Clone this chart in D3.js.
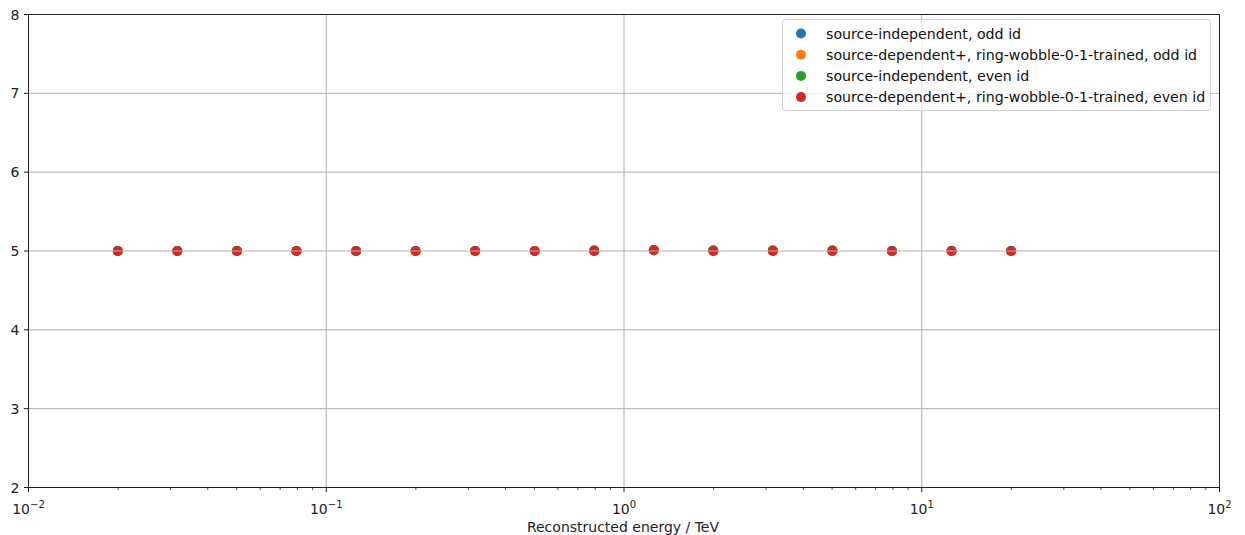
<!DOCTYPE html>
<html><head><meta charset="utf-8">
<script src="https://cdn.jsdelivr.net/npm/d3@7"></script>
<style>body{margin:0;background:#fff;} svg{display:block;font-family:"DejaVu Sans",sans-serif;}</style>
</head><body>
<svg id="c" width="1245" height="535"></svg>
<script>
const energies = [0.01995, 0.03162, 0.05012, 0.07943, 0.1259, 0.1995, 0.3162, 0.5012, 0.7943, 1.259, 1.995, 3.162, 5.012, 7.943, 12.59, 19.95];
const seriesNames = ["source-independent, odd id", "source-dependent+, ring-wobble-0-1-trained, odd id", "source-independent, even id", "source-dependent+, ring-wobble-0-1-trained, even id"];
const seriesColors = ["#1f77b4", "#ff7f0e", "#2ca02c", "#d62728"];
const valuesOddIndep = [5.0, 5.0, 5.0, 5.0, 5.0, 5.0, 5.0, 5.0, 5.008, 5.01, 5.004, 5.004, 5.008, 5.0, 5.0, 5.0];
const valuesOddDep   = [5.0, 5.0, 5.0, 5.0, 5.0, 5.0, 5.0, 5.0, 5.002, 5.01, 5.002, 5.002, 5.002, 5.0, 5.0, 5.0];
const valuesEvenIndep= [5.0, 5.0, 5.0, 5.0, 5.0, 5.0, 5.0, 5.0, 5.004, 5.01, 5.008, 5.009, 5.004, 5.0, 5.0, 5.0];
const valuesEvenDep  = [5.0, 5.0, 5.0, 5.0, 5.0, 5.0, 5.0, 5.0, 5.0, 5.012, 5.0, 5.0, 5.0, 5.0, 5.0, 5.0];
const allValues = [valuesOddIndep, valuesOddDep, valuesEvenIndep, valuesEvenDep];
const xMajorTicks = [1e-2, 1e-1, 1e0, 1e1, 1e2];
const xTickExponents = ["−2", "−1", "0", "1", "2"];
const yTicks = [2, 3, 4, 5, 6, 7, 8];
const xLabel = "Reconstructed energy / TeV";

const svg = d3.select("#c");
const L = 28.5, R = 1219.5, T = 14.5, B = 487.5;
const x = d3.scaleLog().domain([1e-2, 1e2]).range([L, R]);
const y = d3.scaleLinear().domain([2, 8]).range([B, T]);
const FS = 14;

// points (drawn below grid)
const gPts = svg.append("g");
allValues.forEach((vals, si) => {
  gPts.selectAll(null).data(energies.map((e, i) => [e, vals[i]])).enter()
    .append("circle").attr("cx", d => x(d[0])).attr("cy", d => y(d[1]))
    .attr("r", 5).attr("fill", seriesColors[si]);
});

// grid
const grid = svg.append("g").attr("stroke", "#b0b0b0").attr("stroke-width", 1);
xMajorTicks.slice(1, -1).forEach(t => grid.append("line").attr("x1", x(t)).attr("x2", x(t)).attr("y1", T).attr("y2", B));
yTicks.slice(1, -1).forEach(t => grid.append("line").attr("x1", L).attr("x2", R).attr("y1", y(t)).attr("y2", y(t)));

// minor ticks
const minor = [];
for (let d = -2; d < 2; d++) for (let m = 2; m <= 9; m++) minor.push(m * Math.pow(10, d));
const xAxis = svg.append("g").attr("transform", `translate(0,${B})`);
xAxis.selectAll(null).data(minor).enter().append("line")
  .attr("x1", d => x(d)).attr("x2", d => x(d)).attr("y1", 0).attr("y2", 2.5).attr("stroke", "#000").attr("stroke-width", 0.7);
xAxis.selectAll(null).data(xMajorTicks).enter().append("line")
  .attr("x1", d => x(d)).attr("x2", d => x(d)).attr("y1", 0).attr("y2", 4.5).attr("stroke", "#000").attr("stroke-width", 0.9);
const xt = xAxis.selectAll(null).data(xMajorTicks).enter().append("text")
  .attr("x", d => x(d)).attr("y", 26).attr("text-anchor", "middle").attr("font-size", FS).attr("fill", "#222");
xt.append("tspan").text("10");
xt.append("tspan").attr("dy", -6).attr("font-size", 10).text((d, i) => xTickExponents[i]);

svg.append("text").attr("x", (L + R) / 2 - 1).attr("y", 532).attr("text-anchor", "middle").attr("font-size", FS).attr("fill", "#222").text(xLabel);

// y axis
const yAxis = svg.append("g");
yAxis.selectAll(null).data(yTicks).enter().append("line")
  .attr("x1", L - 4.5).attr("x2", L).attr("y1", d => y(d)).attr("y2", d => y(d)).attr("stroke", "#000").attr("stroke-width", 0.9);
yAxis.selectAll(null).data(yTicks).enter().append("text")
  .attr("x", L - 9).attr("y", d => y(d)).attr("dy", "0.36em").attr("text-anchor", "end").attr("font-size", FS).attr("fill", "#222").text(d => d);

// frame
svg.append("rect").attr("x", L).attr("y", T).attr("width", R - L).attr("height", B - T)
  .attr("fill", "none").attr("stroke", "#222").attr("stroke-width", 1);

// legend
const lg = svg.append("g");
lg.append("rect").attr("x", 782.5).attr("y", 19.5).attr("width", 428).attr("height", 91).attr("rx", 3)
  .attr("fill", "#fff").attr("fill-opacity", 0.8).attr("stroke", "#d0d0d0").attr("stroke-width", 1);
seriesNames.forEach((n, i) => {
  const yy = 33.5 + i * 21.2;
  lg.append("circle").attr("cx", 801).attr("cy", yy).attr("r", 5).attr("fill", seriesColors[i]);
  lg.append("text").attr("x", 826).attr("y", yy).attr("dy", "0.36em").attr("font-size", 14.2).attr("fill", "#111").text(n);
});
</script>
</body></html>
